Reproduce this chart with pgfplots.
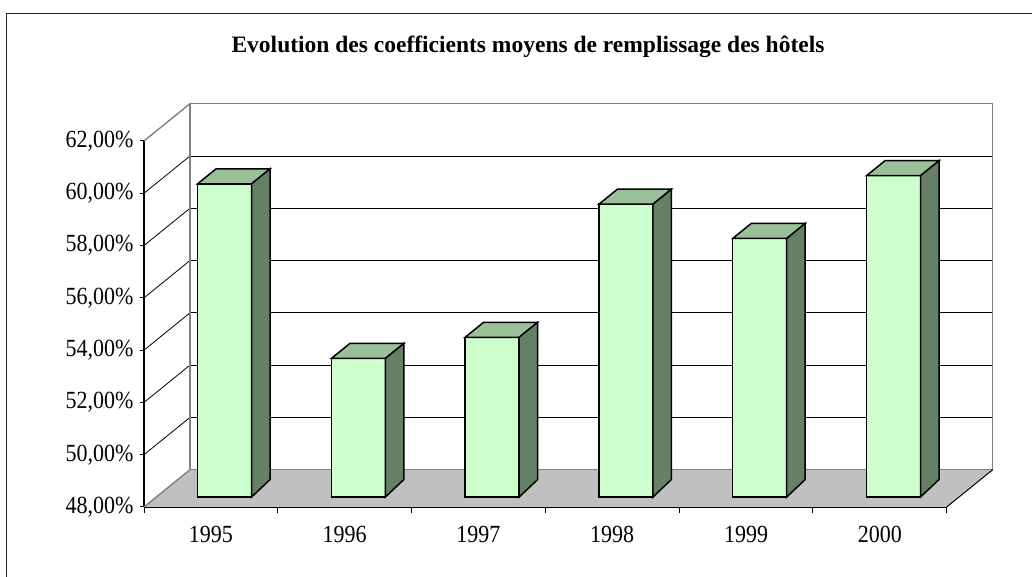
\documentclass[border=0pt]{standalone}
\usepackage{pgfplots}
\pgfplotsset{compat=1.18}
\usepackage{pgfplotstable}
\usepackage{fontspec}
\setmainfont{Liberation Serif}
\definecolor{barfront}{HTML}{CCFFCC}
\definecolor{bartop}{HTML}{99C099}
\definecolor{barside}{HTML}{668066}
\definecolor{floorgray}{HTML}{C0C0C0}
\definecolor{wallgray}{HTML}{808080}
\def\dx{0.3438}
\def\dy{1.427}
\newcommand{\st}[1]{\scalebox{1}[1.12]{#1}}

\pgfdeclareplotmark{bar3d}{%
  \pgfmathsetmacro{\bb}{10-(\barval-48)*26.143}%
  \pgfmathsetmacro{\bs}{\bb+17.5}%
  \pgfsetlinewidth{1.5pt}\pgfsetstrokecolor{black}\pgfsetmiterjoin
  \pgfsetfillcolor{barfront}%
  \pgfpathrectanglecorners{\pgfpoint{-13.3pt}{\bb pt}}{\pgfpoint{40.7pt}{10pt}}%
  \pgfusepath{fill,stroke}%
  \pgfsetfillcolor{bartop}%
  \pgfpathmoveto{\pgfpoint{-13.3pt}{10pt}}\pgfpathlineto{\pgfpoint{40.7pt}{10pt}}%
  \pgfpathlineto{\pgfpoint{59.2pt}{25pt}}\pgfpathlineto{\pgfpoint{5.2pt}{25pt}}\pgfpathclose
  \pgfusepath{fill,stroke}%
  \pgfsetfillcolor{barside}%
  \pgfpathmoveto{\pgfpoint{40.7pt}{\bb pt}}\pgfpathlineto{\pgfpoint{40.7pt}{10pt}}%
  \pgfpathlineto{\pgfpoint{59.2pt}{25pt}}\pgfpathlineto{\pgfpoint{59.2pt}{\bs pt}}\pgfpathclose
  \pgfusepath{fill,stroke}%
}

\pgfplotstableread{
x v
0 59.98
1 53.30
2 54.11
3 59.20
4 57.89
5 60.29
}\datatable

\begin{document}
\begin{tikzpicture}[x=1pt,y=1pt]
\useasboundingbox (0,0) rectangle (1032,577);
\fill[white] (0,0) rectangle (1032,577);
\draw[line width=1.6pt, black!85] (6.5,0) -- (6.5,563.5) -- (1032,563.5);
\node[anchor=base, inner sep=0pt, font=\bfseries\fontsize{23.5}{28}\selectfont] at (528,524.5) {Evolution des coefficients moyens de remplissage des hôtels};
\begin{axis}[
  at={(144pt,70pt)}, anchor=south west,
  scale only axis, width=802.7pt, height=366pt,
  xmin=-0.5, xmax=5.5, ymin=48, ymax=62,
  clip=false,
  axis x line*=bottom, axis y line*=left,
  axis line style={-, black, line width=1.4pt},
  ytick={48,50,...,62},
  yticklabels={\st{48,00\%},\st{50,00\%},\st{52,00\%},\st{54,00\%},\st{56,00\%},\st{58,00\%},\st{60,00\%},\st{62,00\%}},
  xtick={0,...,5},
  xticklabels={\st{1995},\st{1996},\st{1997},\st{1998},\st{1999},\st{2000}},
  minor xtick={-0.5,0.5,...,5.5},
  tick align=outside,
  major tick length=4pt,
  minor tick length=6pt,
  major x tick style={draw=none},
  minor x tick style={black, line width=1pt},
  y tick style={black, line width=1pt},
  ticklabel style={font=\fontsize{22}{26}\selectfont},
  xticklabel style={yshift=-12pt},
  yticklabel style={xshift=-3pt},
]
% floor
\fill[floorgray] (axis cs:-0.5,48) -- (axis cs:5.5,48) -- (axis cs:5.5+\dx,48+\dy) -- (axis cs:-0.5+\dx,48+\dy) -- cycle;
% back wall gridlines
\pgfplotsinvokeforeach{50,52,54,56,58,60}{
  \draw[black, line width=0.8pt] (axis cs:-0.5+\dx,#1+\dy) -- (axis cs:5.5+\dx,#1+\dy);
  \draw[black, line width=0.8pt] (axis cs:-0.5,#1) -- (axis cs:-0.5+\dx,#1+\dy);
}
% wall borders
\draw[wallgray, line width=1.4pt] (axis cs:-0.5+\dx,48+\dy) rectangle (axis cs:5.5+\dx,62+\dy);
\draw[wallgray, line width=1.4pt] (axis cs:-0.5,62) -- (axis cs:-0.5+\dx,62+\dy);
\draw[wallgray, line width=1.4pt] (axis cs:-0.5,48) -- (axis cs:-0.5+\dx,48+\dy);
\draw[black, line width=1pt] (axis cs:5.5,48) -- (axis cs:5.5+\dx,48+\dy);
% bars
\addplot[only marks, mark=bar3d, visualization depends on={rawy \as \barval}] table[x=x,y=v]{\datatable};
\end{axis}
\end{tikzpicture}
\end{document}
